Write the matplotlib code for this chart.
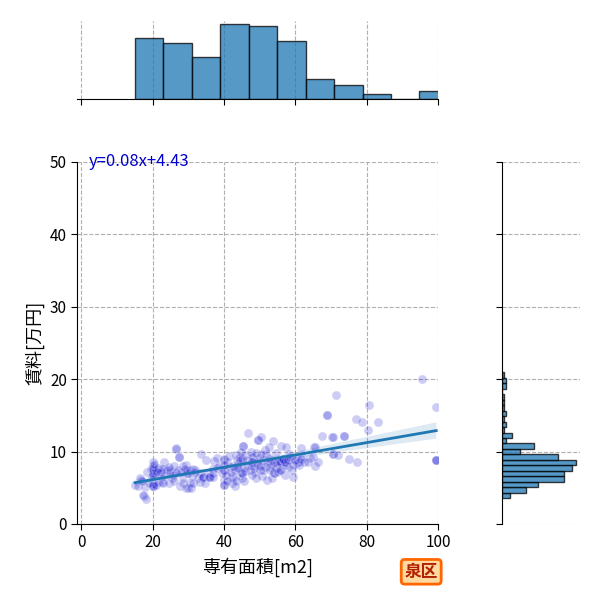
import matplotlib
matplotlib.use("Agg")
import matplotlib.pyplot as plt
import seaborn as sns
import numpy as np

# scatter data: area [m2] and rent [万円]
area = [
    15.1, 16.0, 16.7, 17.8, 17.7, 18.2, 17.4, 20.0, 20.0, 20.0, 20.0, 20.0, 20.0, 20.0, 20.0,
    21.6, 22.4, 22.6, 20.5, 19.0, 21.0,
    18.5, 19.5, 20.0, 20.0, 20.0, 21.0, 21.5, 22.0, 22.5, 16.5, 17.0, 19.8, 20.3, 22.8, 21.3,
    23.3, 23.3, 23.0, 24.6, 24.9, 25.4, 25.8, 26.5, 26.5, 26.5, 27.4, 27.4, 27.7, 28.6, 28.6,
    29.5, 29.6, 29.5, 29.7, 30.0, 30.0, 30.4, 30.9, 26.0, 28.0,
    24.0, 25.0, 26.0, 27.0, 28.5, 29.0, 30.5, 24.5,
    31.1, 31.4, 31.4, 31.9, 32.0, 32.8, 33.3, 33.3, 33.5, 33.9, 34.2, 34.2, 34.7, 35.0, 35.6,
    35.9, 35.9, 36.1, 36.9, 37.0, 37.0, 37.3, 38.0, 38.5, 38.0,
    40.0, 40.0, 40.0, 40.0, 40.0, 40.0, 40.0, 41.7, 42.2, 42.2, 42.6, 43.3, 43.6, 43.6, 44.5,
    44.5, 45.0, 45.0, 45.0, 45.4, 45.4, 45.4, 46.4, 46.8, 41.0, 42.0, 44.0, 46.0, 43.0,
    39.5, 40.0, 40.5, 41.5, 42.5, 43.0, 43.5, 44.0, 44.5, 45.0, 45.5, 46.0, 46.5, 41.0, 44.8,
    47.3, 47.8, 48.0, 48.0, 48.2, 48.7, 49.2, 49.6, 49.6, 50.1, 50.1, 50.5, 50.6, 51.0, 51.5,
    51.5, 52.0, 52.9, 52.9, 53.4, 53.4, 53.7, 53.7, 53.9, 53.9, 54.5, 47.5, 49.0, 51.8, 52.5,
    47.5, 48.5, 49.0, 49.5, 50.0, 50.5, 51.0, 52.0, 52.5, 53.0, 54.0, 54.5, 48.0,
    55.0, 55.2, 55.7, 55.9, 55.9, 56.1, 56.5, 56.6, 57.1, 57.5, 58.0, 58.1, 58.5, 59.0, 59.4,
    60.4, 60.4, 61.0, 61.0, 61.6, 57.0, 62.0,
    55.5, 56.0, 56.5, 57.0, 57.5, 58.0, 58.5, 59.5, 60.0, 61.5, 62.5, 55.8,
    64.1, 65.1, 65.3, 65.5, 65.5, 67.6, 68.8, 68.8, 70.2, 70.5, 70.6, 70.6, 63.5, 66.5,
    71.4, 73.6, 73.6, 77.0, 77.4, 78.6, 72.0, 75.0,
    80.5, 80.7, 83.3, 95.4, 99.5, 99.5, 99.5, 99.5,
]
rent = [
    5.4, 5.2, 6.1, 5.1, 3.8, 3.4, 4.0, 8.6, 8.0, 7.6, 6.8, 5.3, 5.3, 5.3, 5.5,
    5.85, 7.6, 5.8, 6.6, 5.6, 5.4,
    7.2, 7.6, 7.8, 7.4, 7.0, 7.4, 7.8, 7.0, 7.2, 6.4, 6.0, 6.6, 8.3, 7.6, 7.2,
    8.5, 6.6, 5.6, 5.6, 7.5, 6.3, 6.7, 10.45, 10.3, 7.0, 9.3, 9.3, 5.2, 6.3, 5.6,
    8.2, 7.0, 5.0, 7.5, 5.0, 7.0, 5.7, 5.0, 6.0, 7.2,
    7.4, 7.2, 8.0, 7.4, 8.0, 7.6, 7.5, 7.9,
    6.6, 5.6, 7.6, 7.5, 7.2, 6.4, 5.8, 7.0, 9.6, 6.3, 6.5, 6.5, 5.6, 8.9, 7.1,
    6.5, 6.5, 6.45, 7.0, 6.5, 7.6, 8.7, 7.8, 8.0, 9.1,
    8.9, 9.0, 7.5, 7.5, 6.1, 5.4, 5.4, 7.9, 6.6, 5.7, 6.3, 9.5, 7.9, 9.0, 9.3,
    6.8, 6.4, 7.0, 7.0, 7.7, 10.8, 10.8, 8.1, 12.5, 8.5, 7.2, 8.4, 9.5, 5.2,
    7.0, 8.2, 6.8, 9.4, 8.0, 7.4, 6.0, 7.7, 8.8, 9.0, 6.0, 7.3, 8.9, 5.9, 10.0,
    7.5, 9.3, 8.5, 8.5, 9.3, 7.2, 8.5, 11.6, 11.6, 7.5, 9.1, 12.05, 6.6, 8.8, 10.2,
    7.9, 6.1, 7.9, 8.6, 6.3, 8.8, 11.4, 8.2, 7.0, 7.0, 9.8, 10.0, 6.4, 9.6, 10.6,
    8.0, 7.8, 9.8, 8.2, 8.0, 9.6, 7.4, 8.4, 9.1, 7.5, 8.5, 7.8, 6.8,
    8.4, 7.2, 8.6, 8.6, 8.6, 10.8, 9.0, 9.0, 8.6, 10.7, 7.9, 9.7, 9.0, 7.5, 6.5,
    9.0, 8.4, 8.2, 8.6, 10.45, 6.8, 9.2,
    8.6, 7.4, 9.0, 8.6, 8.1, 8.8, 9.2, 8.2, 8.8, 9.0, 8.5, 7.5,
    9.1, 9.3, 10.6, 8.0, 10.7, 12.1, 15.0, 15.0, 12.05, 12.06, 9.7, 9.7, 8.6, 8.6,
    17.8, 12.2, 12.2, 14.5, 8.6, 14.1, 9.5, 9.0,
    13.0, 16.5, 14.1, 20.0, 16.1, 8.9, 8.9, 8.9,
]

# marginal histograms (bin edges and counts)
area_bins = [15.1, 23.0, 31.0, 39.0, 47.0, 55.0, 62.9, 70.8, 78.9, 86.8, 94.6, 102.5]
area_counts = [36, 33, 25, 44, 43, 34, 12, 8, 3, 0, 5]
rent_bin_start = 3.55
rent_bin_width = 0.757
rent_counts = [4, 12, 18, 31, 31, 35, 37, 28, 9, 16, 2, 5, 1, 2, 1, 2, 1, 1, 1, 0, 2, 2, 1]

ward = "泉区"
equation = "y=0.08x+4.43"

plt.rcParams["font.family"] = ["Noto Sans CJK JP", "DejaVu Sans"]

fig = plt.figure(figsize=(6, 6), dpi=100)
ax = fig.add_axes([0.1288, 0.1267, 0.6012, 0.6033])
ax_top = fig.add_axes([0.1288, 0.835, 0.6012, 0.1307])
ax_right = fig.add_axes([0.836, 0.1267, 0.1307, 0.6033])

grid_kw = dict(color="#b0b0b0", linestyle="--", linewidth=0.8)

# joint scatter + regression
ax.scatter(area, rent, s=42, color="mediumblue", alpha=0.2, edgecolors="white", linewidths=1, zorder=2)
sns.regplot(x=np.array(area), y=np.array(rent), ax=ax, scatter=False, color="#1f77b4",
            line_kws={"linewidth": 2}, seed=0)
ax.set_xlim(-1.1, 100)
ax.set_ylim(0, 50)
ax.set_xticks([0, 20, 40, 60, 80, 100])
ax.set_yticks([0, 10, 20, 30, 40, 50])
ax.grid(True, **grid_kw)
ax.set_axisbelow(True)
for s in ["top", "right"]:
    ax.spines[s].set_visible(False)
ax.tick_params(labelsize=11, length=4, direction="out")
ax.set_xlabel("専有面積[m2]", fontsize=13)
ax.set_ylabel("賃料[万円]", fontsize=13)
ax.text(2, 50, equation, color="mediumblue", fontsize=12, va="center", ha="left")

# top marginal
ax_top.bar(area_bins[:-1], area_counts, width=np.diff(area_bins), align="edge",
           color="#1f77b4", alpha=0.75, edgecolor="black", linewidth=1)
ax_top.set_xlim(ax.get_xlim())
ax_top.set_xticks([0, 20, 40, 60, 80, 100])
ax_top.set_xticklabels([])
ax_top.set_yticks([])
ax_top.grid(True, axis="x", **grid_kw)
ax_top.set_axisbelow(True)
for s in ["top", "right", "left"]:
    ax_top.spines[s].set_visible(False)
ax_top.tick_params(length=4)

# right marginal
rent_edges = rent_bin_start + rent_bin_width * np.arange(len(rent_counts))
ax_right.barh(rent_edges, rent_counts, height=rent_bin_width, align="edge",
              color="#1f77b4", alpha=0.75, edgecolor="black", linewidth=1)
ax_right.set_ylim(0, 50)
ax_right.set_yticks([0, 10, 20, 30, 40, 50])
ax_right.set_yticklabels([])
ax_right.set_xticks([])
ax_right.grid(True, axis="y", **grid_kw)
ax_right.set_axisbelow(True)
for s in ["top", "right", "bottom"]:
    ax_right.spines[s].set_visible(False)
ax_right.tick_params(length=4)

fig.text(0.702, 0.047, ward, fontsize=12, fontweight="bold", color="#b22000", ha="center", va="center",
         bbox=dict(boxstyle="round,pad=0.2", facecolor="#ffd9a0", edgecolor="#ff6600", linewidth=2))

fig.savefig("out.png", dpi=100)
